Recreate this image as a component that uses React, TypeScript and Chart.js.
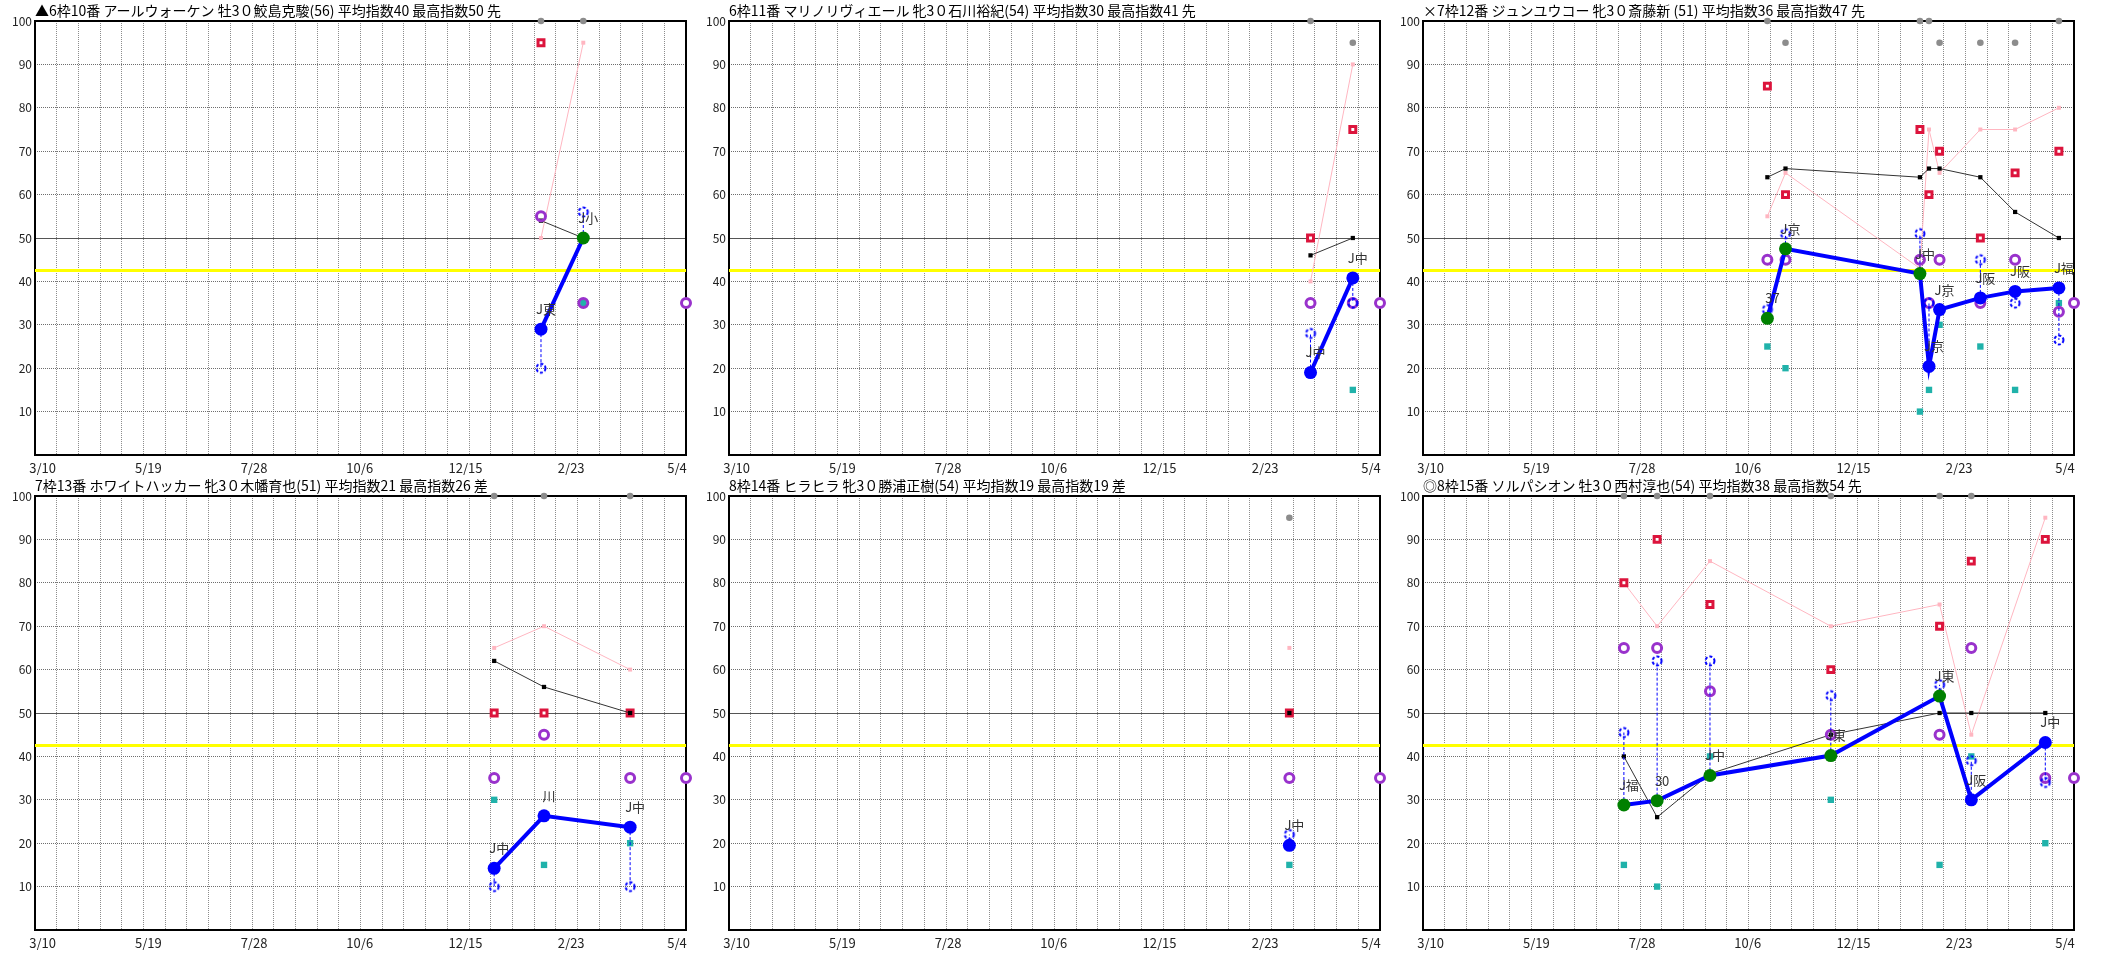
import React, { useEffect, useRef } from 'react';
import { Chart, registerables } from 'chart.js';
Chart.register(...registerables);

// ---------- axis data ----------
const axisStart = '2024-03-05';
const axisEnd = '2025-05-10';
const todayRace = '2025-05-10';
const xTickDates = ['2024-03-10', '2024-05-19', '2024-07-28', '2024-10-06', '2024-12-15', '2025-02-23', '2025-05-04'];
const gridDivisions = 30;
const referenceLine = 42.5;

// ---------- panel 1 ----------
const p1Title = '▲6枠10番 アールウォーケン 牡3０鮫島克駿(56) 平均指数40 最高指数50 先';
const p1Dates = ['2025-02-03', '2025-03-03'];
const p1Gray = [100, 100];
const p1Red = [95, null];
const p1Pink = [50, 95];
const p1Black = [54, 50];
const p1Purple = [55, 35];
const p1Ring = [20, 56];
const p1Teal = [null, 35];
const p1Main = [29, 50];
const p1Win = [false, true];
const p1Course = ['J東', 'J小'];
const p1Today = 35;

// ---------- panel 2 ----------
const p2Title = '6枠11番 マリノリヴィエール 牝3０石川裕紀(54) 平均指数30 最高指数41 先';
const p2Dates = ['2025-03-25', '2025-04-22'];
const p2Gray = [100, 95];
const p2Red = [50, 75];
const p2Pink = [40, 90];
const p2Black = [46, 50];
const p2Purple = [35, 35];
const p2Ring = [28, 35];
const p2Teal = [null, 15];
const p2Main = [19, 40.8];
const p2Win = [false, false];
const p2Course = ['J中', 'J中'];
const p2Today = 35;

// ---------- panel 3 ----------
const p3Title = '×7枠12番 ジュンユウコー 牝3０斎藤新 (51) 平均指数36 最高指数47 先';
const p3Dates = ['2024-10-19', '2024-10-31', '2025-01-28', '2025-02-03', '2025-02-10', '2025-03-09', '2025-04-01', '2025-04-30'];
const p3Gray = [100, 95, 100, 100, 95, 95, 95, 100];
const p3Red = [85, 60, 75, 60, 70, 50, 65, 70];
const p3Pink = [55, 65, 43, 75, 65, 75, 75, 80];
const p3Black = [64, 66, 64, 66, 66, 64, 56, 50];
const p3Purple = [45, 45, 45, 35, 45, 35, 45, 33];
const p3Ring = [33.5, 51, 51, 35, null, 45, 35, 26.5];
const p3Teal = [25, 20, 10, 15, 30, 25, 15, 35];
const p3Main = [31.5, 47.5, 41.8, 20.4, 33.5, 36.2, 37.7, 38.5];
const p3Win = [true, true, true, false, false, false, false, false];
const p3Course = ['37', 'J京', 'J中', 'J京', 'J京', 'J阪', 'J阪', 'J福'];
const p3Today = 35;

// ---------- panel 4 ----------
const p4Title = '7枠13番 ホワイトハッカー 牝3０木幡育也(51) 平均指数21 最高指数26 差';
const p4Dates = ['2025-01-03', '2025-02-05', '2025-04-03'];
const p4Gray = [100, 100, 100];
const p4Red = [50, 50, 50];
const p4Pink = [65, 70, 60];
const p4Black = [62, 56, 50];
const p4Purple = [35, 45, 35];
const p4Ring = [10, null, 10];
const p4Teal = [30, 15, 20];
const p4Main = [14.2, 26.3, 23.7];
const p4Win = [false, false, false];
const p4Course = ['J中', '川', 'J中'];
const p4Today = 35;

// ---------- panel 5 ----------
const p5Title = '8枠14番 ヒラヒラ 牝3０勝浦正樹(54) 平均指数19 最高指数19 差';
const p5Dates = ['2025-03-11'];
const p5Gray = [95];
const p5Red = [50];
const p5Pink = [65];
const p5Black = [50];
const p5Purple = [35];
const p5Ring = [22];
const p5Teal = [15];
const p5Main = [19.5];
const p5Win = [false];
const p5Course = ['J中'];
const p5Today = 35;

// ---------- panel 6 ----------
const p6Title = '◎8枠15番 ソルパシオン 牡3０西村淳也(54) 平均指数38 最高指数54 先';
const p6Dates = ['2024-07-16', '2024-08-07', '2024-09-11', '2024-11-30', '2025-02-10', '2025-03-03', '2025-04-21'];
const p6Gray = [100, 100, 100, 100, 100, 100, null];
const p6Red = [80, 90, 75, 60, 70, 85, 90];
const p6Pink = [80, 70, 85, 70, 75, 45, 95];
const p6Black = [40, 26, 36, 45, 50, 50, 50];
const p6Purple = [65, 65, 55, 45, 45, 65, 35];
const p6Ring = [45.5, 62, 62, 54, 56.5, 39, 34];
const p6Teal = [15, 10, 40, 30, 15, 40, 20];
const p6Main = [28.8, 29.8, 35.6, 40.2, 53.9, 30, 43.2];
const p6Win = [true, true, true, true, true, false, false];
const p6Course = ['J福', '30', 'J中', 'J東', 'J東', 'J阪', 'J中'];
const p6Today = 35;

// ---------- helpers ----------
const BASE = Date.UTC(2024, 2, 10);
function dayOf(s: string): number {
  const [y, m, d] = s.split('-').map(Number);
  return (Date.UTC(y, m - 1, d) - BASE) / 86400000;
}
function fmtDate(s: string): string {
  const [, m, d] = s.split('-').map(Number);
  return `${m}/${d}`;
}
const X_MIN = dayOf(axisStart);
const X_MAX = dayOf(axisEnd);
const xTickLabels = xTickDates.map(fmtDate);

const FONT = '"Noto Sans CJK JP", "DejaVu Sans", sans-serif';

type PanelData = {
  title: string; dates: string[]; gray: (number | null)[]; red: (number | null)[]; pink: (number | null)[];
  black: (number | null)[]; purple: (number | null)[]; ring: (number | null)[]; teal: (number | null)[];
  main: number[]; win: boolean[]; course: string[]; today: number;
};

const panels: PanelData[] = [
  { title: p1Title, dates: p1Dates, gray: p1Gray, red: p1Red, pink: p1Pink, black: p1Black, purple: p1Purple, ring: p1Ring, teal: p1Teal, main: p1Main, win: p1Win, course: p1Course, today: p1Today },
  { title: p2Title, dates: p2Dates, gray: p2Gray, red: p2Red, pink: p2Pink, black: p2Black, purple: p2Purple, ring: p2Ring, teal: p2Teal, main: p2Main, win: p2Win, course: p2Course, today: p2Today },
  { title: p3Title, dates: p3Dates, gray: p3Gray, red: p3Red, pink: p3Pink, black: p3Black, purple: p3Purple, ring: p3Ring, teal: p3Teal, main: p3Main, win: p3Win, course: p3Course, today: p3Today },
  { title: p4Title, dates: p4Dates, gray: p4Gray, red: p4Red, pink: p4Pink, black: p4Black, purple: p4Purple, ring: p4Ring, teal: p4Teal, main: p4Main, win: p4Win, course: p4Course, today: p4Today },
  { title: p5Title, dates: p5Dates, gray: p5Gray, red: p5Red, pink: p5Pink, black: p5Black, purple: p5Purple, ring: p5Ring, teal: p5Teal, main: p5Main, win: p5Win, course: p5Course, today: p5Today },
  { title: p6Title, dates: p6Dates, gray: p6Gray, red: p6Red, pink: p6Pink, black: p6Black, purple: p6Purple, ring: p6Ring, teal: p6Teal, main: p6Main, win: p6Win, course: p6Course, today: p6Today },
];

let ringImg: HTMLCanvasElement | null = null;
function getRing(): HTMLCanvasElement {
  if (ringImg) return ringImg;
  const c = document.createElement('canvas');
  c.width = 14; c.height = 14;
  const g = c.getContext('2d')!;
  g.strokeStyle = '#0000ff';
  g.lineWidth = 2;
  g.setLineDash([3, 2]);
  g.beginPath();
  g.arc(7, 7, 4.5, 0, Math.PI * 2);
  g.stroke();
  ringImg = c;
  return c;
}

const framePlugin = {
  id: 'frame',
  beforeDatasetsDraw(chart: any) {
    const { left, top, width, height } = chart.chartArea;
    const ctx = chart.ctx;
    ctx.save();
    ctx.strokeStyle = '#000';
    ctx.lineWidth = 2;
    ctx.strokeRect(left, top, width, height);
    ctx.restore();
  },
};

const courseLabelPlugin = {
  id: 'courseLabels',
  afterDatasetsDraw(chart: any, _args: any, opts: any) {
    const idx = chart.data.datasets.findIndex((d: any) => d.label === 'main');
    if (idx < 0) return;
    const meta = chart.getDatasetMeta(idx);
    const ctx = chart.ctx;
    ctx.save();
    ctx.font = `13px ${FONT}`;
    ctx.fillStyle = '#333';
    ctx.textAlign = 'center';
    ctx.textBaseline = 'middle';
    meta.data.forEach((el: any, i: number) => {
      const t = (opts.texts || [])[i];
      if (t) ctx.fillText(t, el.x + 5, el.y - 20);
    });
    ctx.restore();
  },
};

function buildDatasets(p: PanelData) {
  const xs = p.dates.map(dayOf);
  const pts = (arr: (number | null)[]) =>
    arr.map((v, i) => (v == null ? null : { x: xs[i], y: v })).filter((v) => v !== null);
  const ds: any[] = [];
  ds.push({ label: 'gray', data: pts(p.gray), showLine: false, pointStyle: 'circle', pointRadius: 3.3,
    pointBackgroundColor: '#8c8c8c', pointBorderWidth: 0, order: 0, clip: false });
  ds.push({ label: 'main', data: pts(p.main), borderColor: '#0000ff', borderWidth: 4, pointStyle: 'circle',
    pointRadius: 6.5, pointBackgroundColor: p.win.map((w) => (w ? '#008000' : '#0000ff')),
    pointBorderWidth: 0, order: 1 });
  ds.push({ label: 'ring', data: pts(p.ring), showLine: false, pointStyle: getRing(), pointRadius: 7, order: 2 });
  p.ring.forEach((r, i) => {
    if (r == null) return;
    ds.push({ label: 'conn' + i, data: [{ x: xs[i], y: p.main[i] }, { x: xs[i], y: r }], borderColor: '#0000ff',
      borderWidth: 1, borderDash: [3, 2], pointRadius: 0, order: 3 });
  });
  ds.push({ label: 'purple', data: pts(p.purple), showLine: false, pointStyle: 'circle', pointRadius: 4.5,
    pointBorderWidth: 3, pointBorderColor: '#9932cc', pointBackgroundColor: 'rgba(0,0,0,0)', order: 4 });
  ds.push({ label: 'today', data: [{ x: dayOf(todayRace), y: p.today }], showLine: false, pointStyle: 'circle',
    pointRadius: 4.5, pointBorderWidth: 3, pointBorderColor: '#9932cc', pointBackgroundColor: '#fff', order: 4, clip: false });
  ds.push({ label: 'teal', data: pts(p.teal), showLine: false, pointStyle: 'rect', pointRadius: 4.5,
    pointBackgroundColor: '#20b2aa', pointBorderWidth: 0, order: 5 });
  ds.push({ label: 'black', data: pts(p.black), borderColor: '#333', borderWidth: 1, pointStyle: 'rect',
    pointRadius: 3, pointBackgroundColor: '#000', pointBorderWidth: 0, order: 6, spanGaps: true });
  ds.push({ label: 'red', data: pts(p.red), showLine: false, pointStyle: 'rect', pointRadius: 4.2,
    pointBackgroundColor: '#fff', pointBorderColor: '#dc143c', pointBorderWidth: 3, order: 7 });
  ds.push({ label: 'pink', data: pts(p.pink), borderColor: '#ffb6c1', borderWidth: 1, pointStyle: 'rect',
    pointRadius: 2.8, pointBackgroundColor: '#ffb6c1', pointBorderWidth: 0, order: 8, spanGaps: true });
  ds.push({ label: 'yellow', data: [{ x: X_MIN, y: referenceLine }, { x: X_MAX, y: referenceLine }],
    borderColor: '#ffff00', borderWidth: 3, pointRadius: 0, order: 9 });
  return ds;
}

function makeConfig(p: PanelData): any {
  return {
    type: 'line',
    data: { datasets: buildDatasets(p) },
    plugins: [framePlugin, courseLabelPlugin],
    options: {
      animation: false,
      responsive: false,
      events: [],
      layout: { padding: { left: 0, right: 2, top: 0, bottom: 0 } },
      plugins: {
        legend: { display: false },
        tooltip: { enabled: false },
        title: {
          display: true, text: p.title, align: 'start', color: '#000', fullSize: false,
          font: { size: 14, weight: 'normal', family: FONT, lineHeight: 1.2 },
          padding: { top: 2, bottom: 2.2 },
        },
        courseLabels: { texts: p.course },
      },
      scales: {
        x: {
          type: 'linear', position: 'bottom', min: X_MIN, max: X_MAX,
          afterBuildTicks: (s: any) => {
            const arr = [];
            for (let i = 0; i <= gridDivisions; i++) arr.push({ value: X_MIN + ((X_MAX - X_MIN) * i) / gridDivisions });
            s.ticks = arr;
          },
          ticks: { display: false },
          grid: { color: '#8c8c8c', drawTicks: false, lineWidth: 1 },
          border: { display: false, dash: [1, 1] },
          afterFit: (s: any) => { s.height = 0; },
        },
        xl: {
          type: 'linear', position: 'bottom', min: X_MIN, max: X_MAX,
          afterBuildTicks: (s: any) => { s.ticks = xTickDates.map((d) => ({ value: dayOf(d) })); },
          ticks: {
            autoSkip: false, maxRotation: 0, minRotation: 0, padding: 5, color: '#222',
            font: { size: 13, family: FONT },
            callback: (_v: any, i: number) => xTickLabels[i],
          },
          grid: { display: false, drawTicks: false },
          border: { display: false },
          afterFit: (s: any) => { s.height = 20; },
        },
        y: {
          type: 'linear', min: 0, max: 100,
          ticks: {
            stepSize: 10, padding: 3, color: '#222', font: { size: 12, family: FONT },
            callback: (v: any) => (v === 0 ? '' : String(v)),
          },
          grid: {
            drawTicks: false, lineWidth: 1,
            color: (c: any) => (c.tick && c.tick.value === 50 ? '#555' : '#6e6e6e'),
          },
          border: {
            display: false,
            dash: (c: any) => (c.tick && c.tick.value !== 50 ? [1, 1] : []),
          },
          afterFit: (s: any) => { s.width = 35; },
        },
      },
    },
  };
}

function Panel({ p, left, top }: { p: PanelData; left: number; top: number }) {
  const ref = useRef<HTMLCanvasElement>(null);
  useEffect(() => {
    const chart = new Chart(ref.current as HTMLCanvasElement, makeConfig(p));
    return () => chart.destroy();
  }, [p]);
  return (
    <canvas ref={ref} width={694} height={475}
      style={{ position: 'absolute', left, top, width: 694, height: 475 }} />
  );
}

export default function App() {
  return (
    <div style={{ position: 'absolute', left: 0, top: 0, width: 2107, height: 953, background: '#fff' }}>
      {panels.map((p, i) => (
        <Panel key={i} p={p} left={(i % 3) * 694} top={Math.floor(i / 3) * 475} />
      ))}
    </div>
  );
}
